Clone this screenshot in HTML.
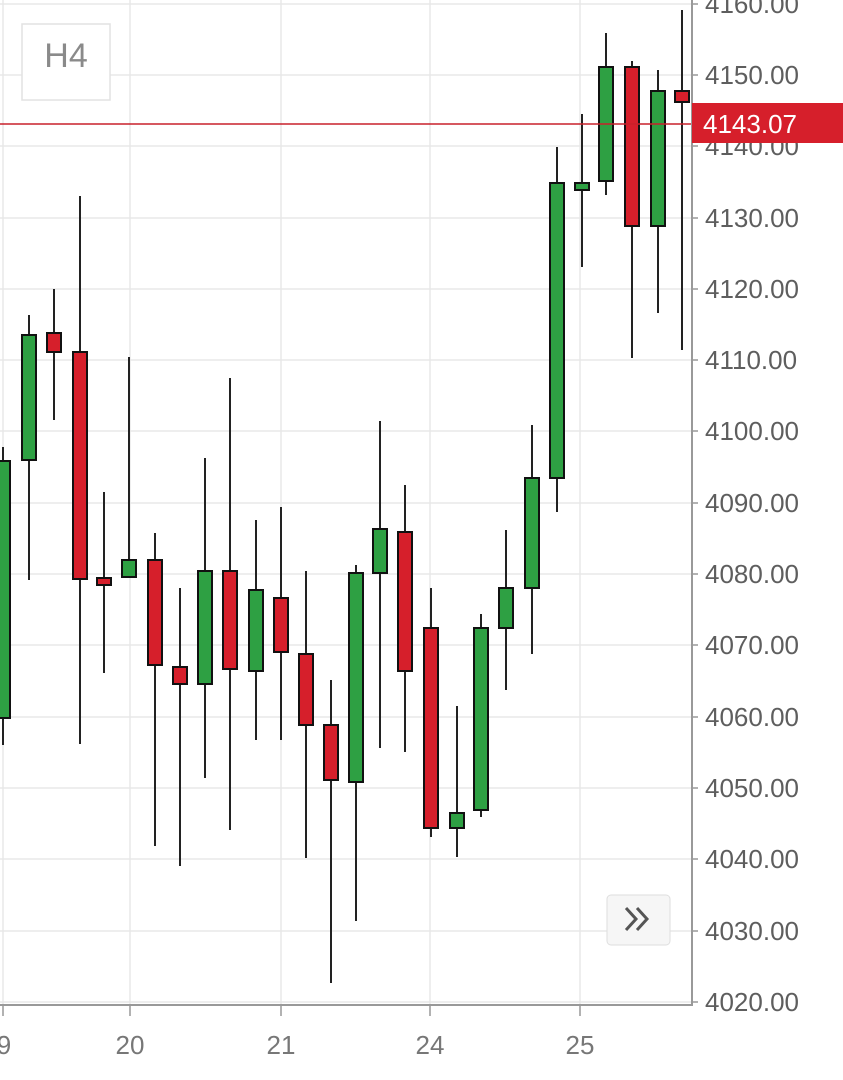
<!DOCTYPE html>
<html><head><meta charset="utf-8"><style>
html,body{margin:0;padding:0;background:#fff;}
svg{display:block;font-family:"Liberation Sans",sans-serif;}
</style></head><body>
<svg width="843" height="1080" viewBox="0 0 843 1080" xmlns="http://www.w3.org/2000/svg">
<rect width="843" height="1080" fill="#fff"/>
<g stroke="#e8e8e8" stroke-width="1.5">
<line x1="0" y1="4" x2="692" y2="4"/>
<line x1="0" y1="75" x2="692" y2="75"/>
<line x1="0" y1="146" x2="692" y2="146"/>
<line x1="0" y1="218" x2="692" y2="218"/>
<line x1="0" y1="289" x2="692" y2="289"/>
<line x1="0" y1="360" x2="692" y2="360"/>
<line x1="0" y1="431" x2="692" y2="431"/>
<line x1="0" y1="503" x2="692" y2="503"/>
<line x1="0" y1="574" x2="692" y2="574"/>
<line x1="0" y1="645" x2="692" y2="645"/>
<line x1="0" y1="717" x2="692" y2="717"/>
<line x1="0" y1="788" x2="692" y2="788"/>
<line x1="0" y1="859" x2="692" y2="859"/>
<line x1="0" y1="931" x2="692" y2="931"/>
<line x1="0" y1="1002" x2="692" y2="1002"/>
<line x1="3" y1="0" x2="3" y2="1005"/>
<line x1="130" y1="0" x2="130" y2="1005"/>
<line x1="281" y1="0" x2="281" y2="1005"/>
<line x1="430" y1="0" x2="430" y2="1005"/>
<line x1="580" y1="0" x2="580" y2="1005"/>
</g>
<rect x="22" y="24" width="88" height="76" fill="#fff" stroke="#e2e2e2" stroke-width="1.5"/>
<text x="66" y="67" font-size="34" fill="#8a8a8a" text-anchor="middle">H4</text>
<g stroke="#222" stroke-width="2">
<line x1="3" y1="447" x2="3" y2="745"/><line x1="29" y1="315" x2="29" y2="580"/>
<line x1="54" y1="289" x2="54" y2="420"/><line x1="80" y1="196" x2="80" y2="744"/>
<line x1="104" y1="492" x2="104" y2="673"/><line x1="129" y1="357" x2="129" y2="577"/>
<line x1="155" y1="533" x2="155" y2="846"/><line x1="180" y1="588" x2="180" y2="866"/>
<line x1="205" y1="458" x2="205" y2="778"/><line x1="230" y1="378" x2="230" y2="830"/>
<line x1="256" y1="520" x2="256" y2="740"/><line x1="281" y1="507" x2="281" y2="740"/>
<line x1="306" y1="571" x2="306" y2="858"/><line x1="331" y1="680" x2="331" y2="983"/>
<line x1="356" y1="565" x2="356" y2="921"/><line x1="380" y1="421" x2="380" y2="748"/>
<line x1="405" y1="485" x2="405" y2="752"/><line x1="431" y1="588" x2="431" y2="837"/>
<line x1="457" y1="706" x2="457" y2="857"/><line x1="481" y1="614" x2="481" y2="817"/>
<line x1="506" y1="530" x2="506" y2="690"/><line x1="532" y1="425" x2="532" y2="654"/>
<line x1="557" y1="147" x2="557" y2="512"/><line x1="582" y1="114" x2="582" y2="267"/>
<line x1="606" y1="33" x2="606" y2="195"/><line x1="632" y1="61" x2="632" y2="358"/>
<line x1="658" y1="70" x2="658" y2="313"/><line x1="682" y1="10" x2="682" y2="350"/>
</g>
<g stroke="#111" stroke-width="2">
<rect x="-4" y="461" width="14" height="257" fill="#2ea043"/>
<rect x="22" y="335" width="14" height="125" fill="#2ea043"/>
<rect x="47" y="333" width="14" height="19" fill="#d61f2b"/>
<rect x="73" y="352" width="14" height="227" fill="#d61f2b"/>
<rect x="97" y="578" width="14" height="7" fill="#d61f2b"/>
<rect x="122" y="560" width="14" height="17" fill="#2ea043"/>
<rect x="148" y="560" width="14" height="105" fill="#d61f2b"/>
<rect x="173" y="667" width="14" height="17" fill="#d61f2b"/>
<rect x="198" y="571" width="14" height="113" fill="#2ea043"/>
<rect x="223" y="571" width="14" height="98" fill="#d61f2b"/>
<rect x="249" y="590" width="14" height="81" fill="#2ea043"/>
<rect x="274" y="598" width="14" height="54" fill="#d61f2b"/>
<rect x="299" y="654" width="14" height="71" fill="#d61f2b"/>
<rect x="324" y="725" width="14" height="55" fill="#d61f2b"/>
<rect x="349" y="573" width="14" height="209" fill="#2ea043"/>
<rect x="373" y="529" width="14" height="44" fill="#2ea043"/>
<rect x="398" y="532" width="14" height="139" fill="#d61f2b"/>
<rect x="424" y="628" width="14" height="200" fill="#d61f2b"/>
<rect x="450" y="813" width="14" height="15" fill="#2ea043"/>
<rect x="474" y="628" width="14" height="182" fill="#2ea043"/>
<rect x="499" y="588" width="14" height="40" fill="#2ea043"/>
<rect x="525" y="478" width="14" height="110" fill="#2ea043"/>
<rect x="550" y="183" width="14" height="295" fill="#2ea043"/>
<rect x="575" y="183" width="14" height="7" fill="#2ea043"/>
<rect x="599" y="67" width="14" height="114" fill="#2ea043"/>
<rect x="625" y="67" width="14" height="159" fill="#d61f2b"/>
<rect x="651" y="91" width="14" height="135" fill="#2ea043"/>
<rect x="675" y="91" width="14" height="11" fill="#d61f2b"/>
</g>
<line x1="0" y1="124" x2="692" y2="124" stroke="#c8202b" stroke-width="1.5"/>
<line x1="692" y1="0" x2="692" y2="1006" stroke="#999" stroke-width="2"/>
<line x1="0" y1="1005" x2="692" y2="1005" stroke="#999" stroke-width="2"/>
<g stroke="#999" stroke-width="1.5">
<line x1="3" y1="1005" x2="3" y2="1016"/><line x1="130" y1="1005" x2="130" y2="1016"/>
<line x1="281" y1="1005" x2="281" y2="1016"/><line x1="430" y1="1005" x2="430" y2="1016"/>
<line x1="580" y1="1005" x2="580" y2="1016"/>
<line x1="692" y1="4" x2="698" y2="4"/><line x1="692" y1="75" x2="698" y2="75"/>
<line x1="692" y1="146" x2="698" y2="146"/><line x1="692" y1="218" x2="698" y2="218"/>
<line x1="692" y1="289" x2="698" y2="289"/><line x1="692" y1="360" x2="698" y2="360"/>
<line x1="692" y1="431" x2="698" y2="431"/><line x1="692" y1="503" x2="698" y2="503"/>
<line x1="692" y1="574" x2="698" y2="574"/><line x1="692" y1="645" x2="698" y2="645"/>
<line x1="692" y1="717" x2="698" y2="717"/><line x1="692" y1="788" x2="698" y2="788"/>
<line x1="692" y1="859" x2="698" y2="859"/><line x1="692" y1="931" x2="698" y2="931"/>
<line x1="692" y1="1002" x2="698" y2="1002"/>
</g>
<g font-size="26" fill="#5e5e5e">
<text x="705" y="13">4160.00</text>
<text x="705" y="84">4150.00</text>
<text x="705" y="155">4140.00</text>
<text x="705" y="227">4130.00</text>
<text x="705" y="298">4120.00</text>
<text x="705" y="369">4110.00</text>
<text x="705" y="440">4100.00</text>
<text x="705" y="512">4090.00</text>
<text x="705" y="583">4080.00</text>
<text x="705" y="654">4070.00</text>
<text x="705" y="726">4060.00</text>
<text x="705" y="797">4050.00</text>
<text x="705" y="868">4040.00</text>
<text x="705" y="940">4030.00</text>
<text x="705" y="1011">4020.00</text>
</g>
<rect x="692" y="103" width="151" height="40" fill="#d61f2b"/>
<text x="703" y="133" font-size="26" fill="#fff">4143.07</text>
<g font-size="26" fill="#777" text-anchor="middle">
<text x="4" y="1054">9</text><text x="130" y="1054">20</text>
<text x="281" y="1054">21</text><text x="430" y="1054">24</text><text x="580" y="1054">25</text>
</g>
<rect x="607" y="895" width="63" height="50" rx="4" fill="#f6f6f6" stroke="#dedede"/>
<path d="M626 908 L636 919 L626 930 M637 908 L647 919 L637 930" fill="none" stroke="#555" stroke-width="3"/>
</svg>
</body></html>
